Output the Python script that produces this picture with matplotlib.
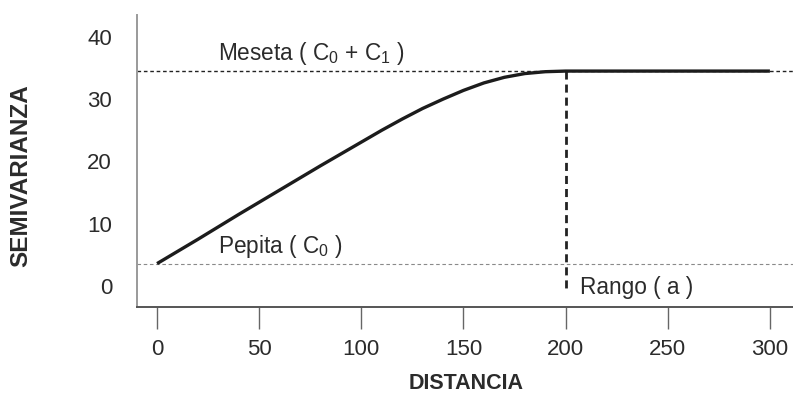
import matplotlib
matplotlib.use('Agg')
import matplotlib.pyplot as plt
import matplotlib.ticker as ticker

plt.rcParams['font.family'] = ['Liberation Sans', 'DejaVu Sans']
plt.rcParams['mathtext.fontset'] = 'custom'
plt.rcParams['mathtext.rm'] = 'Liberation Sans'
plt.rcParams['mathtext.it'] = 'Liberation Sans:italic'
plt.rcParams['mathtext.bf'] = 'Liberation Sans:bold'

# semivariogram
distance = [0, 20, 40, 60, 80, 100, 110, 120, 130, 140, 150, 160, 170, 180, 190, 200, 300]
semivariance = [3.6, 7.5, 11.5, 15.4, 19.3, 23.1, 25.0, 26.8, 28.5, 30.0,
                31.4, 32.6, 33.5, 34.1, 34.4, 34.5, 34.5]

nugget = 3.5
sill = 34.5
model_range = 200

x_ticks = [0, 50, 100, 150, 200, 250, 300]
y_ticks = [0, 10, 20, 30, 40]

TEXT_COLOR = '#2b2b2b'

fig = plt.figure(figsize=(7.93, 3.96), dpi=100)
ax = fig.add_axes([0.1728, 0.2247, 0.8272, 0.7374])

ax.set_xlim(-9.8, 311.3)
ax.set_ylim(-3.37, 43.5)

# reference lines for sill and nugget
ax.axhline(sill, color='#222222', lw=1.0, linestyle=(0, (2.6, 2.0)))
ax.axhline(nugget, color='#8a8a8a', lw=0.8, linestyle=(0, (3.2, 2.4)))

# range marker
ax.plot([model_range, model_range], [sill, -0.3], color='#222222', lw=2.0,
        linestyle=(0, (2.9, 1.8)))

ax.plot(distance, semivariance, color='#1c1c1c', lw=2.4,
        solid_capstyle='butt', solid_joinstyle='round')

ax.text(29.9, 36.2, r'Meseta ( C$_0$ + C$_1$ )', fontsize=16.3,
        color=TEXT_COLOR, va='baseline', ha='left')
ax.text(29.9, 5.3, r'Pepita ( C$_0$ )', fontsize=16.3,
        color=TEXT_COLOR, va='baseline', ha='left')
ax.text(207, -1.3, 'Rango ( a )', fontsize=16.3,
        color=TEXT_COLOR, va='baseline', ha='left')

ax.xaxis.set_major_locator(ticker.FixedLocator(x_ticks))
ax.yaxis.set_major_locator(ticker.FixedLocator(y_ticks))

ax.tick_params(axis='x', direction='out', length=16, width=1.0,
               color='#666666', pad=7, labelsize=16, labelcolor=TEXT_COLOR)
ax.tick_params(axis='y', length=0, pad=18, labelsize=16,
               labelcolor=TEXT_COLOR)

for side in ('top', 'right'):
    ax.spines[side].set_visible(False)
ax.spines['left'].set_color('#9a9a9a')
ax.spines['left'].set_linewidth(1.4)
ax.spines['bottom'].set_color('#555555')
ax.spines['bottom'].set_linewidth(1.4)

ax.set_xlabel('DISTANCIA', fontsize=15.5, fontweight='bold', color=TEXT_COLOR,
              ha='center', va='center')
ax.xaxis.set_label_coords(0.5015, -0.263)
ax.set_ylabel('SEMIVARIANZA', fontsize=17.5, fontweight='bold', color=TEXT_COLOR,
              ha='center', va='center')
ax.yaxis.set_label_coords(-0.177, 0.449)

fig.savefig('out.png', dpi=100)
plt.close(fig)
